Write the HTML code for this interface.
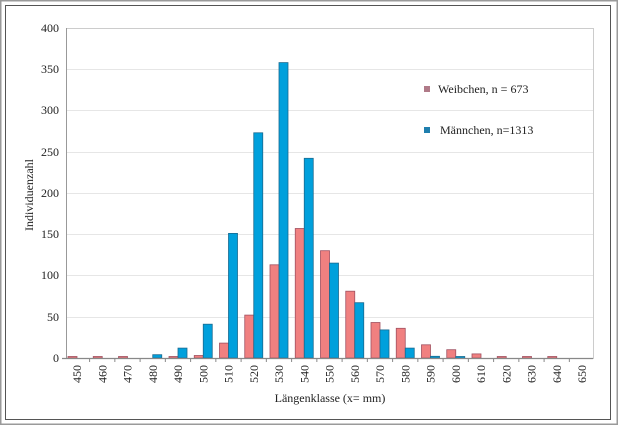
<!DOCTYPE html>
<html><head><meta charset="utf-8"><style>
html,body{margin:0;padding:0;background:#fff}
svg{display:block}
text{font-family:"Liberation Serif",serif;fill:#222}
</style></head><body>
<svg width="618" height="425" viewBox="0 0 618 425" xmlns="http://www.w3.org/2000/svg">
<rect x="0.5" y="0.5" width="617" height="424" fill="#fff" stroke="#9a9a9a" stroke-width="2"/>
<rect x="5.5" y="5.5" width="605" height="414" fill="#fff" stroke="#555" stroke-width="1"/>
<g stroke="#e6e6e6" stroke-width="1">
<line x1="66" x2="593" y1="28.5" y2="28.5" stroke="#ccc"/>
<line x1="66" x2="593" y1="69.5" y2="69.5"/>
<line x1="66" x2="593" y1="110.5" y2="110.5"/>
<line x1="66" x2="593" y1="152.5" y2="152.5"/>
<line x1="66" x2="593" y1="193.5" y2="193.5"/>
<line x1="66" x2="593" y1="234.5" y2="234.5"/>
<line x1="66" x2="593" y1="275.5" y2="275.5"/>
<line x1="66" x2="593" y1="317.5" y2="317.5"/>
</g>
<line x1="66.5" x2="66.5" y1="28" y2="359" stroke="#999"/>
<line x1="593.5" x2="593.5" y1="28" y2="359" stroke="#ccc"/>
<g stroke-width="0.8">
<g fill="#f08080" stroke="#a05060">
<rect x="68" y="356.5" width="9" height="1.5"/>
<rect x="93.25" y="356.5" width="9" height="1.5"/>
<rect x="118.5" y="356.5" width="9" height="1.5"/>
<rect x="169" y="356.5" width="9" height="1.5"/>
<rect x="194.25" y="355.5" width="9" height="2.5"/>
<rect x="219.5" y="343.1" width="9" height="14.9"/>
<rect x="244.75" y="315.1" width="9" height="42.9"/>
<rect x="270" y="264.8" width="9" height="93.2"/>
<rect x="295.25" y="228.5" width="9" height="129.5"/>
<rect x="320.5" y="250.7" width="9" height="107.3"/>
<rect x="345.75" y="291.2" width="9" height="66.8"/>
<rect x="371" y="322.5" width="9" height="35.5"/>
<rect x="396.25" y="328.3" width="9" height="29.7"/>
<rect x="421.5" y="344.8" width="9" height="13.2"/>
<rect x="446.75" y="349.7" width="9" height="8.3"/>
<rect x="472" y="353.9" width="9" height="4.1"/>
<rect x="497.25" y="356.5" width="9" height="1.5"/>
<rect x="522.5" y="356.5" width="9" height="1.5"/>
<rect x="547.75" y="356.5" width="9" height="1.5"/>
</g>
<g fill="#00a0dc" stroke="#1a6a90">
<rect x="152.75" y="354.7" width="9" height="3.3"/>
<rect x="178" y="348.1" width="9" height="9.9"/>
<rect x="203.25" y="324.2" width="9" height="33.8"/>
<rect x="228.5" y="233.4" width="9" height="124.6"/>
<rect x="253.75" y="132.8" width="9" height="225.2"/>
<rect x="279" y="62.6" width="9" height="295.4"/>
<rect x="304.25" y="158.3" width="9" height="199.7"/>
<rect x="329.5" y="263.1" width="9" height="94.9"/>
<rect x="354.75" y="302.7" width="9" height="55.3"/>
<rect x="380" y="329.9" width="9" height="28.1"/>
<rect x="405.25" y="348.1" width="9" height="9.9"/>
<rect x="430.5" y="356.3" width="9" height="1.7"/>
<rect x="455.75" y="356.5" width="9" height="1.5"/>
</g>
</g>
<line x1="62" x2="593" y1="358.5" y2="358.5" stroke="#888" stroke-width="1.2"/>
<g stroke="#888">
<line x1="89.6" x2="89.6" y1="358" y2="362"/><line x1="114.85" x2="114.85" y1="358" y2="362"/>
<line x1="140.1" x2="140.1" y1="358" y2="362"/><line x1="165.35" x2="165.35" y1="358" y2="362"/>
<line x1="190.6" x2="190.6" y1="358" y2="362"/><line x1="215.85" x2="215.85" y1="358" y2="362"/>
<line x1="241.1" x2="241.1" y1="358" y2="362"/><line x1="266.35" x2="266.35" y1="358" y2="362"/>
<line x1="291.6" x2="291.6" y1="358" y2="362"/><line x1="316.85" x2="316.85" y1="358" y2="362"/>
<line x1="342.1" x2="342.1" y1="358" y2="362"/><line x1="367.35" x2="367.35" y1="358" y2="362"/>
<line x1="392.6" x2="392.6" y1="358" y2="362"/><line x1="417.85" x2="417.85" y1="358" y2="362"/>
<line x1="443.1" x2="443.1" y1="358" y2="362"/><line x1="468.35" x2="468.35" y1="358" y2="362"/>
<line x1="493.6" x2="493.6" y1="358" y2="362"/><line x1="518.85" x2="518.85" y1="358" y2="362"/>
<line x1="544.1" x2="544.1" y1="358" y2="362"/><line x1="569.35" x2="569.35" y1="358" y2="362"/>
</g>
<g font-size="12" text-anchor="end">
<text x="59" y="32">400</text><text x="59" y="73">350</text><text x="59" y="114">300</text>
<text x="59" y="156">250</text><text x="59" y="197">200</text><text x="59" y="238">150</text>
<text x="59" y="279">100</text><text x="59" y="321">50</text><text x="59" y="362">0</text>
</g>
<g font-size="12" text-anchor="middle">
<text transform="translate(81,374) rotate(-90)">450</text>
<text transform="translate(106.25,374) rotate(-90)">460</text>
<text transform="translate(131.5,374) rotate(-90)">470</text>
<text transform="translate(156.75,374) rotate(-90)">480</text>
<text transform="translate(182,374) rotate(-90)">490</text>
<text transform="translate(207.25,374) rotate(-90)">500</text>
<text transform="translate(232.5,374) rotate(-90)">510</text>
<text transform="translate(257.75,374) rotate(-90)">520</text>
<text transform="translate(283,374) rotate(-90)">530</text>
<text transform="translate(308.25,374) rotate(-90)">540</text>
<text transform="translate(333.5,374) rotate(-90)">550</text>
<text transform="translate(358.75,374) rotate(-90)">560</text>
<text transform="translate(384,374) rotate(-90)">570</text>
<text transform="translate(409.25,374) rotate(-90)">580</text>
<text transform="translate(434.5,374) rotate(-90)">590</text>
<text transform="translate(459.75,374) rotate(-90)">600</text>
<text transform="translate(485,374) rotate(-90)">610</text>
<text transform="translate(510.25,374) rotate(-90)">620</text>
<text transform="translate(535.5,374) rotate(-90)">630</text>
<text transform="translate(560.75,374) rotate(-90)">640</text>
<text transform="translate(586,374) rotate(-90)">650</text>
</g>
<text transform="translate(33,195) rotate(-90)" font-size="12" text-anchor="middle">Individuenzahl</text>
<text x="330" y="402" font-size="12" text-anchor="middle">Längenklasse (x= mm)</text>
<rect x="424" y="86" width="6" height="6" fill="#b07a88"/>
<text x="438" y="93" font-size="12">Weibchen, n = 673</text>
<rect x="424" y="127" width="6" height="6" fill="#1f7fae"/>
<text x="440" y="134" font-size="12">Männchen, n=1313</text>
</svg>
</body></html>
